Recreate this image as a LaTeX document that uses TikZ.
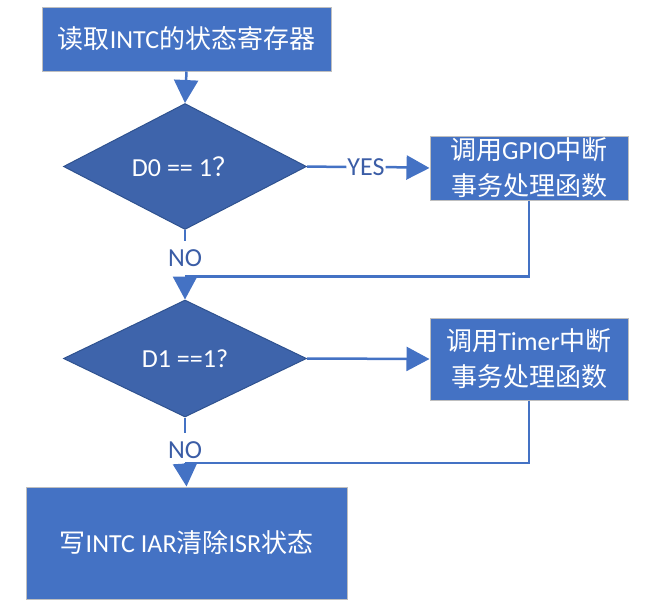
\documentclass[tikz,border=0pt]{standalone}
\usepackage{fontspec}
\setmainfont{Carlito}
\newfontfamily\cjk{Noto Sans CJK SC}
\usetikzlibrary{shapes.geometric,arrows.meta}
\definecolor{boxfill}{HTML}{4472C4}
\definecolor{boxline}{HTML}{BFBFBF}
\definecolor{dfill}{HTML}{3E64AB}
\definecolor{dline}{HTML}{2F528F}
\definecolor{conn}{HTML}{4472C4}
\definecolor{lbl}{HTML}{3B5DA6}
\tikzset{
  procbox/.style={rectangle, fill=boxfill, draw=boxline, line width=1pt, text=white, align=center, inner sep=0pt, font=\fontsize{26}{36}\selectfont},
  decide/.style={diamond, fill=dfill, draw=dline, line width=1pt, text=white, inner sep=0pt, font=\fontsize{26}{36}\selectfont},
  lbltext/.style={text=lbl, inner sep=1pt, font=\fontsize{26}{30}\selectfont},
  conline/.style={draw=conn, line width=2.5pt},
  arr/.style={conline, -{Triangle[length=23pt,width=24pt]}}
}
\begin{document}
\begin{tikzpicture}[x=1pt,y=-1pt]
\useasboundingbox (0,0) rectangle (651,608);
\node[procbox, minimum width=289pt, minimum height=64pt] (b1) at (186.5,39) {{\cjk 读取}INTC{\cjk 的状态寄存器}};
\node[decide, minimum width=243pt, minimum height=97pt] (d1) at (185,166.5) {D0 == 1{\cjk ？}};
\node[procbox, minimum width=198pt, minimum height=64pt] (b2) at (529,168) {{\cjk 调用}GPIO{\cjk 中断}\\{\cjk 事务处理函数}};
\node[decide, minimum width=243pt, minimum height=117pt] (d2) at (185,358.5) {D1 ==1?};
\node[procbox, minimum width=198pt, minimum height=82pt] (b3) at (529,359) {{\cjk 调用}Timer{\cjk 中断}\\{\cjk 事务处理函数}};
\node[procbox, minimum width=321pt, minimum height=112pt] (b4) at (186.5,543) {{\cjk 写}INTC IAR{\cjk 清除}ISR{\cjk 状态}};
\node[lbltext] (yes) at (366,167) {YES};
\node[lbltext, inner sep=8pt] (no1) at (185,258) {NO};
\node[lbltext, inner sep=8pt] (no2) at (185,450) {NO};
\coordinate (j1) at (185,276.5);
\coordinate (j2) at (185,463);
\draw[arr] (b1.south) -- (d1.north);
\draw[conline] (d1.east) -- (yes.west);
\draw[arr] (yes.east) -- (b2.west);
\draw[conline] (d1.south) -- (no1.north);
\draw[conline] (b2.south) |- (j1);
\draw[arr] (j1) -- (d2.north);
\draw[arr] (d2.east) -- (b3.west);
\draw[conline] (d2.south) -- (no2.north);
\draw[conline] (b3.south) |- (j2);
\draw[arr] (j2) -- (b4.north);
\end{tikzpicture}
\end{document}
